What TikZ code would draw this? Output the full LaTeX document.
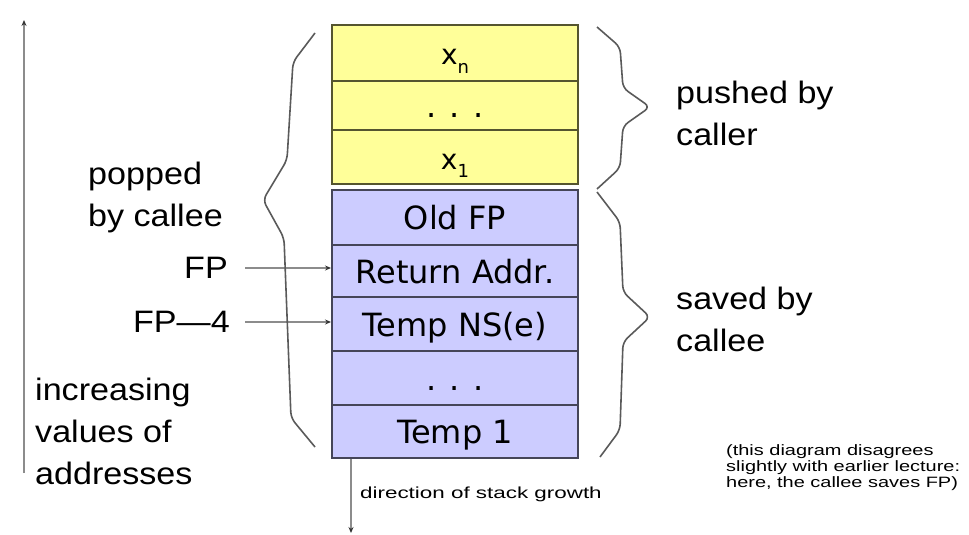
\documentclass[tikz,border=0pt]{standalone}
\usepackage{fontspec}
\setmainfont{Liberation Sans}
\newfontfamily\labf[FakeStretch=1.1]{Liberation Sans}
\newfontfamily\smallf[FakeStretch=1.4]{Liberation Sans}
\newfontfamily\notef[FakeStretch=1.33]{Liberation Sans}
\newfontfamily\cellf{DejaVu Sans}
\usetikzlibrary{arrows.meta}
\definecolor{ycol}{HTML}{FFFF99}
\definecolor{bcol}{HTML}{CCCCFF}
\definecolor{yline}{HTML}{55552F}
\definecolor{bline}{HTML}{454558}
\definecolor{ptrcol}{HTML}{8C8C8C}
\definecolor{bracecol}{HTML}{5A5A5A}
\begin{document}
\begin{tikzpicture}[x=1pt,y=-1pt,
  cellbox/.style={draw, line width=2pt, minimum width=246pt, inner sep=0pt, text height=24pt, text depth=0pt, font=\cellf\fontsize{32}{36}\selectfont},
  ycell/.style={cellbox, fill=ycol, draw=yline},
  bcell/.style={cellbox, fill=bcol, draw=bline},
  lab/.style={font=\labf\fontsize{31}{42}\selectfont, align=left, inner sep=0pt, anchor=north west},
  fplab/.style={font=\labf\fontsize{31}{42}\selectfont, inner sep=0pt, anchor=east},
  ptr/.style={draw=ptrcol, line width=1.6pt, -{Stealth[length=6pt,width=5pt,color=black!80]}},
  bracepath/.style={draw=bracecol, line width=1.6pt, rounded corners=6pt}
]
\useasboundingbox (0,0) rectangle (969,535);
\clip (0,0) rectangle (969,535);

% stack cells
\node[ycell, minimum height=56pt] (xn) at (455,53) {\fontsize{28}{30}\selectfont x\raisebox{-9pt}{\fontsize{18}{18}\selectfont n}};
\node[ycell, minimum height=49pt] (ydots) at (455,105.5) {. . .};
\node[ycell, minimum height=54pt] (x1) at (455,157) {\fontsize{28}{30}\selectfont x\raisebox{-8pt}{\fontsize{18}{18}\selectfont 1}};
\node[bcell, minimum height=55pt] (oldfp) at (455,217.5) {Old FP};
\node[bcell, minimum height=52pt] (ret) at (455,271) {Return Addr.};
\node[bcell, minimum height=54pt] (tmpns) at (455,324) {Temp NS(e)};
\node[bcell, minimum height=54pt] (bdots) at (455,378) {. . .};
\node[bcell, minimum height=53pt] (tmp1) at (455,431.5) {Temp 1};

% labels
\node[lab] (pushed) at (676,81) {pushed by\\caller};
\node[lab] (saved) at (676,287) {saved by\\callee};
\node[lab] (popped) at (88,162) {popped\\by callee};
\node[lab] (incr) at (35,378) {increasing\\values of\\addresses};
\node[fplab] (fp) at (228,268) {FP};
\node[fplab] (fp4) at (230,322) {FP—4};
\node[font=\smallf\fontsize{16}{18}\selectfont, anchor=base west, inner sep=0pt] (growth) at (360,498) {direction of stack growth};
\node[font=\notef\fontsize{15}{16}\selectfont, align=left, anchor=north west, inner sep=0pt] (note) at (726,444) {(this diagram disagrees\\slightly with earlier lecture:\\here, the callee saves FP)};

% arrows
\draw[ptr] ([xshift=17pt]fp.east) -- (fp.east -| ret.west);
\draw[ptr] ([xshift=15pt]fp4.east) -- (fp4.east -| tmpns.west);
\coordinate (axbot) at (24,473);
\coordinate (axtop) at (24,20);
\draw[ptr] (axbot) -- (axtop);
\coordinate (growend) at (351,533);
\draw[ptr] (tmp1.south -| growend) -- (growend);

% braces
\draw[bracepath] (315,33) -- (293,62) -- (287,160) -- (263,200) -- (284,238) -- (291,418) -- (315,447);
\draw[bracepath] (597,27) -- (620,47) -- (623,88) -- (650,107) -- (623,126) -- (620,168) -- (597,189);
\draw[bracepath] (597,192) -- (620,222) -- (623,292) -- (650,317) -- (623,342) -- (620,430) -- (600,457);
\end{tikzpicture}
\end{document}
